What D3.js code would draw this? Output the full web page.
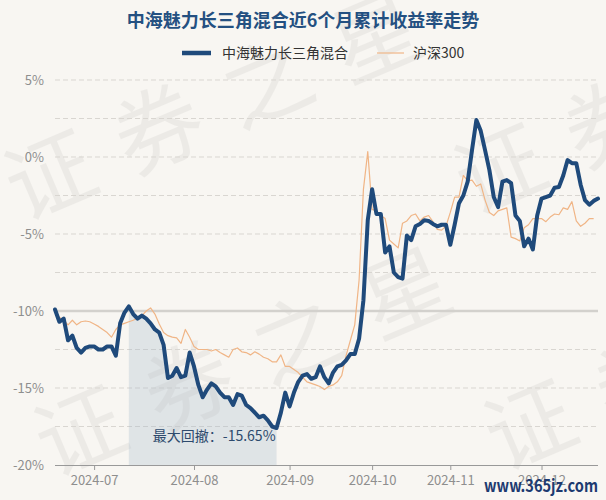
<!DOCTYPE html>
<html><head><meta charset="utf-8">
<script src="https://cdn.jsdelivr.net/npm/d3@7/dist/d3.min.js"></script>
<style>
html,body{margin:0;padding:0;background:#f8f6f2;}
svg{display:block;}
text{font-family:"Noto Sans CJK SC","Noto Sans",sans-serif;}
</style></head>
<body><svg id="c" width="606" height="500"></svg>
<script>
const dates = [
"2024-06-18","2024-06-19","2024-06-20","2024-06-21","2024-06-24","2024-06-25","2024-06-26","2024-06-27","2024-06-28",
"2024-07-01","2024-07-02","2024-07-03","2024-07-04","2024-07-05","2024-07-08","2024-07-09","2024-07-10","2024-07-11","2024-07-12",
"2024-07-15","2024-07-16","2024-07-17","2024-07-18","2024-07-19","2024-07-22","2024-07-23","2024-07-24","2024-07-25","2024-07-26",
"2024-07-29","2024-07-30","2024-07-31",
"2024-08-01","2024-08-02","2024-08-05","2024-08-06","2024-08-07","2024-08-08","2024-08-09","2024-08-12","2024-08-13","2024-08-14",
"2024-08-15","2024-08-16","2024-08-19","2024-08-20","2024-08-21","2024-08-22","2024-08-23","2024-08-26","2024-08-27","2024-08-28",
"2024-08-29","2024-08-30",
"2024-09-02","2024-09-03","2024-09-04","2024-09-05","2024-09-06","2024-09-09","2024-09-10","2024-09-11","2024-09-12","2024-09-13",
"2024-09-18","2024-09-19","2024-09-20","2024-09-23","2024-09-24","2024-09-25","2024-09-26","2024-09-27","2024-09-30",
"2024-10-08","2024-10-09","2024-10-10","2024-10-11","2024-10-14","2024-10-15","2024-10-16","2024-10-17","2024-10-18","2024-10-21",
"2024-10-22","2024-10-23","2024-10-24","2024-10-25","2024-10-28","2024-10-29","2024-10-30","2024-10-31",
"2024-11-01","2024-11-04","2024-11-05","2024-11-06","2024-11-07","2024-11-08","2024-11-11","2024-11-12","2024-11-13","2024-11-14",
"2024-11-15","2024-11-18","2024-11-19","2024-11-20","2024-11-21","2024-11-22","2024-11-25","2024-11-26","2024-11-27","2024-11-28","2024-11-29",
"2024-12-02","2024-12-03","2024-12-04","2024-12-05","2024-12-06","2024-12-09","2024-12-10","2024-12-11","2024-12-12","2024-12-13",
"2024-12-16","2024-12-17","2024-12-18","2024-12-19"
];
const fundValues = [
-9.9,-10.7,-10.5,-11.9,-11.6,-12.4,-12.7,-12.4,-12.3,-12.3,
-12.5,-12.5,-12.3,-12.3,-12.9,-10.8,-10.1,-9.7,-10.2,-10.5,
-10.3,-10.5,-10.8,-11.2,-11.4,-12.2,-14.35,-14.2,-13.7,-14.3,
-14.2,-12.7,-13.6,-14.8,-15.6,-15.1,-14.7,-14.9,-15.3,-15.6,
-15.6,-16.1,-15.4,-15.5,-16.1,-16.3,-16.6,-16.9,-16.8,-17.1,
-17.5,-17.6,-16.6,-15.3,-16.2,-15.3,-14.6,-14.2,-14.1,-14.4,
-14.3,-13.6,-14.3,-14.7,-14.0,-13.6,-13.5,-13.2,-12.8,-12.8,
-11.8,-9.3,-4.1,-2.1,-3.7,-3.7,-6.2,-5.8,-7.5,-7.8,
-7.9,-5.1,-5.4,-4.5,-4.35,-4.1,-4.15,-4.35,-4.5,-4.4,
-4.4,-5.7,-4.4,-3.0,-2.5,-1.6,0.45,2.4,1.7,0.45,
-0.85,-2.6,-3.25,-1.6,-1.5,-1.7,-3.8,-4.15,-5.8,-5.3,
-6.0,-3.8,-2.7,-2.6,-2.5,-2.0,-1.95,-1.2,-0.2,-0.4,
-0.4,-1.8,-2.8,-3.1,-2.85,-2.7
];
const hs300Values = [
-10.0,-10.4,-10.6,-10.9,-10.6,-10.9,-10.7,-10.65,-10.7,-10.85,
-11.0,-11.2,-11.4,-11.7,-11.2,-10.9,-10.8,-10.7,-10.6,-10.45,
-10.3,-10.0,-9.8,-10.2,-10.85,-11.4,-11.6,-11.7,-11.75,-12.1,
-11.2,-11.7,-12.3,-12.5,-12.5,-12.5,-12.6,-12.5,-12.7,-12.85,
-13.0,-12.5,-12.4,-12.65,-12.7,-12.85,-12.65,-12.8,-13.0,-13.1,
-13.3,-13.3,-12.85,-13.6,-13.6,-13.8,-14.0,-14.3,-14.6,-14.7,
-14.8,-14.9,-15.1,-14.9,-14.8,-14.6,-14.2,-12.9,-11.9,-10.9,
-8.0,-2.1,0.35,-3.4,-3.5,-3.8,-4.0,-5.4,-5.65,-5.9,
-4.3,-4.15,-3.8,-3.7,-4.15,-3.9,-3.8,-4.2,-4.7,-4.75,
-4.5,-3.6,-2.6,-2.6,-1.2,-1.55,-1.5,-1.9,-1.75,-2.8,
-3.6,-3.8,-3.5,-3.4,-3.3,-5.2,-5.3,-5.45,-4.6,-4.4,
-4.0,-4.0,-4.0,-4.2,-3.9,-3.7,-3.75,-3.3,-3.4,-2.9,
-4.15,-4.5,-4.3,-4.0,-4.0
];
const seriesNames = ["中海魅力长三角混合", "沪深300"];
const titleText = "中海魅力长三角混合近6个月累计收益率走势";
const yTickValues = [5, 0, -5, -10, -15, -20];
const gridValues = [5, 2.5, 0, -2.5, -5, -7.5, -12.5, -15, -17.5];
const baseLineValue = -10;
const monthTicks = ["2024-07", "2024-08", "2024-09", "2024-10", "2024-11", "2024-12"];
const drawdownStart = "2024-07-11";
const drawdownEnd = "2024-08-28";
const drawdownLabel = "最大回撤：-15.65%";
const watermarkText = "证券之星";
const siteText = "www.365jz.com";

const svg = d3.select("#c");
const W = 606, H = 500;
const mLeft = 55, mRight = 598, mTop = 80, mBottom = 465;
const fundColor = "#1f4a7b", hsColor = "#f0b586";

svg.append("rect").attr("width", W).attr("height", H).attr("fill", "#f8f6f2");

// watermark
const wm = svg.append("g").attr("opacity", 0.045);
[[22, 222], [472, 216], [52, 478], [502, 472]].forEach(p => {
  wm.append("text").attr("transform", `translate(${p[0]},${p[1]}) rotate(-23)`)
    .attr("font-size", 88).attr("letter-spacing", 30).attr("fill", "#000")
    .text(watermarkText);
});

const x = d3.scalePoint().domain(dates).range([mLeft, mRight]);
const y = d3.scaleLinear().domain([-20, 5]).range([mBottom, mTop]);

// grid
svg.append("g").selectAll("line").data(gridValues).join("line")
  .attr("x1", mLeft).attr("x2", mRight)
  .attr("y1", d => y(d)).attr("y2", d => y(d))
  .attr("stroke", "#d9d6d1").attr("stroke-width", 1).attr("stroke-dasharray", "5,3");
svg.append("line").attr("x1", mLeft).attr("x2", mRight)
  .attr("y1", y(baseLineValue)).attr("y2", y(baseLineValue))
  .attr("stroke", "#d3d1cd").attr("stroke-width", 2.5);

// drawdown area under fund line
const i0 = dates.indexOf(drawdownStart), i1 = dates.indexOf(drawdownEnd);
const ddData = d3.range(i0, i1 + 1).map(i => ({ d: dates[i], v: fundValues[i] }));
svg.append("path").datum(ddData)
  .attr("d", d3.area().x(d => x(d.d)).y0(y(-20)).y1(d => y(d.v)))
  .attr("fill", "#a7b8c9").attr("opacity", 0.3);

// y labels
svg.append("g").selectAll("text").data(yTickValues).join("text")
  .attr("x", 44).attr("y", d => y(d)).attr("dy", "0.36em")
  .attr("text-anchor", "end").attr("font-size", 13).attr("fill", "#8e8e8e")
  .text(d => d + "%");

// x axis
const tickDates = monthTicks.map(m => dates.find(d => d.startsWith(m)));
const xAxis = d3.axisBottom(x).tickValues(tickDates).tickSize(5).tickPadding(6)
  .tickFormat(d => d.slice(0, 7));
const ax = svg.append("g").attr("transform", `translate(0,${mBottom})`).call(xAxis);
ax.select(".domain").attr("stroke", "#999").attr("d", `M${mLeft},0.5H${mRight}`);
ax.selectAll(".tick line").attr("stroke", "#999");
ax.selectAll(".tick text").attr("font-size", 13).attr("fill", "#8e8e8e")
  .attr("font-family", '"Noto Sans CJK SC","Noto Sans",sans-serif');

// lines
const hsData = hs300Values.map((v, i) => ({ d: dates[i], v }));
const fundData = fundValues.map((v, i) => ({ d: dates[i], v }));
const line = d3.line().x(d => x(d.d)).y(d => y(d.v));
svg.append("path").datum(hsData).attr("d", line)
  .attr("fill", "none").attr("stroke", hsColor).attr("stroke-width", 1.2)
  .attr("stroke-linejoin", "round");
svg.append("path").datum(fundData).attr("d", line)
  .attr("fill", "none").attr("stroke", fundColor).attr("stroke-width", 4)
  .attr("stroke-linejoin", "round").attr("stroke-linecap", "round");

// drawdown label
svg.append("text").attr("x", x(drawdownEnd) - 1).attr("y", 441)
  .attr("text-anchor", "end").attr("font-size", 14).attr("fill", "#2d4a6d")
  .text(drawdownLabel);

// title
svg.append("text").attr("x", 303).attr("y", 27).attr("text-anchor", "middle")
  .attr("font-size", 18).attr("font-weight", "bold").attr("fill", "#245081")
  .text(titleText);

// legend
const lg = svg.append("g");
lg.append("line").attr("x1", 182).attr("x2", 211).attr("y1", 53).attr("y2", 53)
  .attr("stroke", fundColor).attr("stroke-width", 4.5);
lg.append("text").attr("x", 222).attr("y", 53).attr("dy", "0.36em")
  .attr("font-size", 14).attr("fill", "#333").text(seriesNames[0]);
lg.append("line").attr("x1", 377).attr("x2", 404).attr("y1", 53).attr("y2", 53)
  .attr("stroke", hsColor).attr("stroke-width", 1.2);
lg.append("text").attr("x", 413).attr("y", 53).attr("dy", "0.36em")
  .attr("font-size", 14).attr("fill", "#333").text(seriesNames[1]);

// site mark
svg.append("text").attr("x", 484).attr("y", 492)
  .attr("font-size", 17).attr("font-family", '"Liberation Serif","DejaVu Serif",serif')
  .attr("font-weight", "bold").attr("fill", "#1d3a70")
  .attr("textLength", 114).attr("lengthAdjust", "spacingAndGlyphs")
  .text(siteText);
</script></body></html>
